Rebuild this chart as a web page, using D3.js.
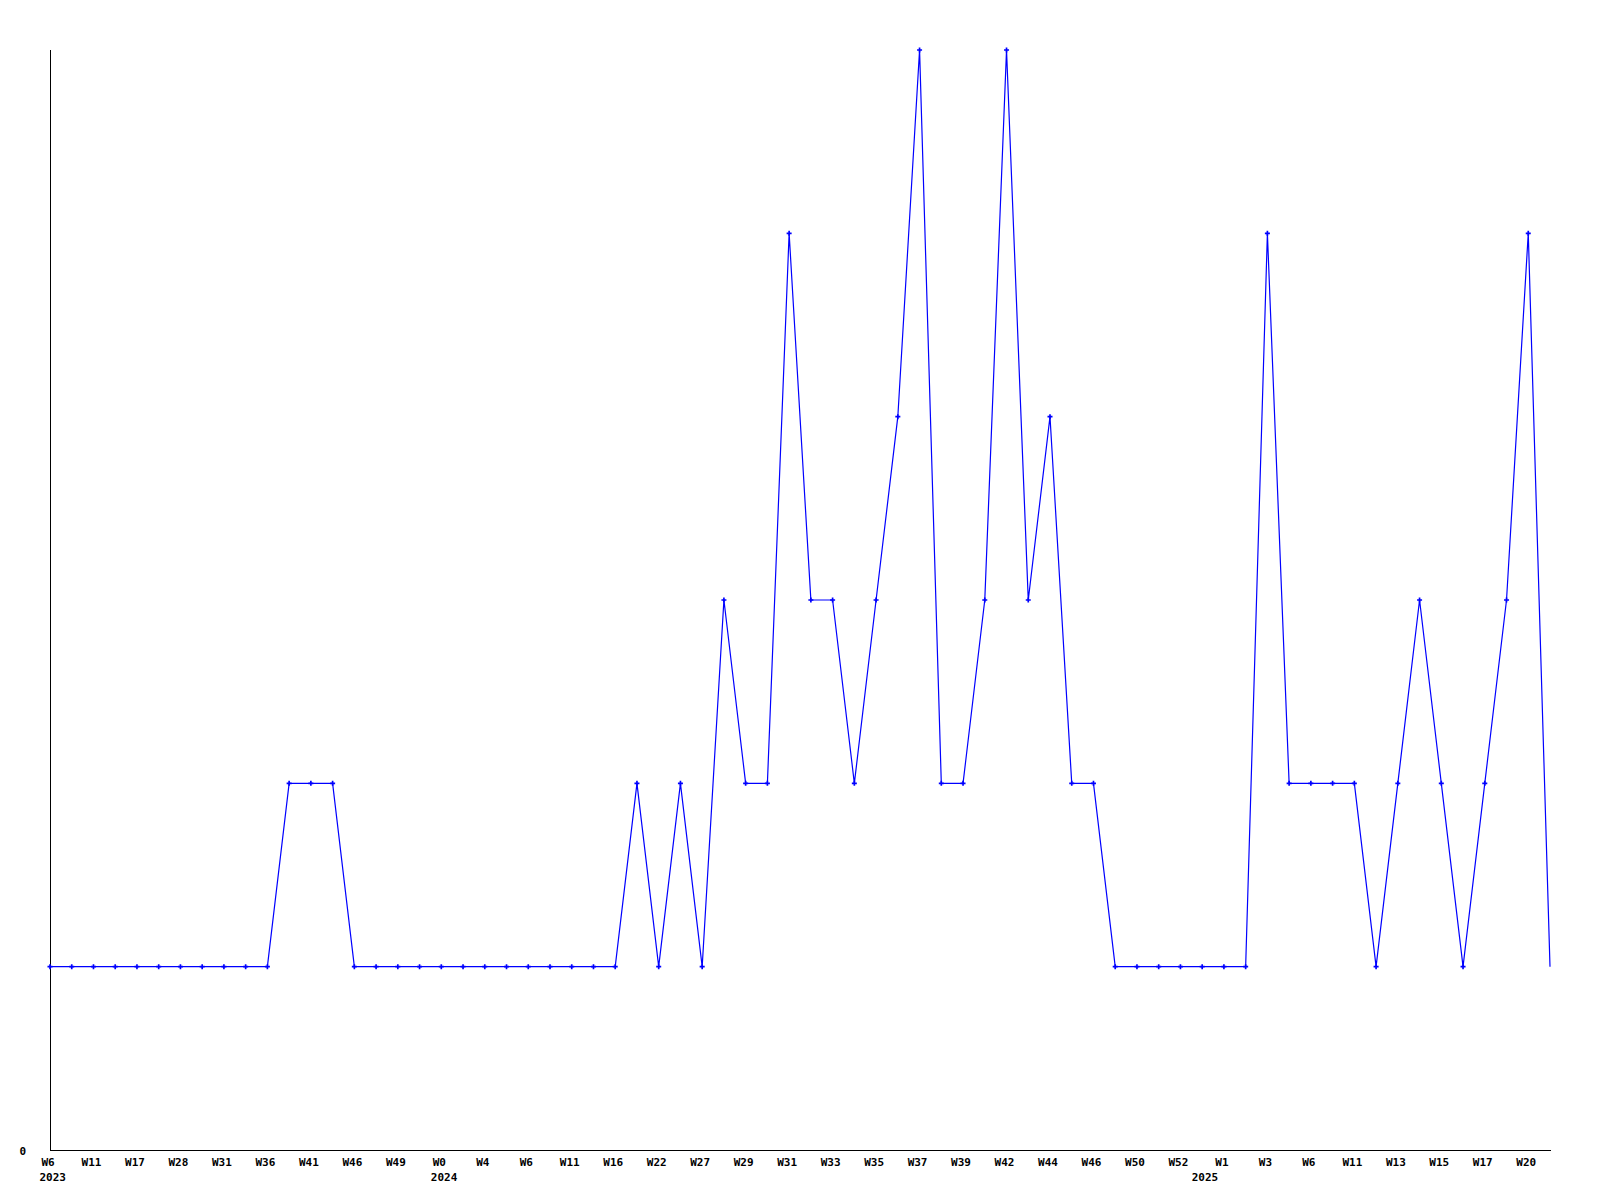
<!DOCTYPE html>
<html>
<head>
<meta charset="utf-8">
<script src="https://cdn.jsdelivr.net/npm/d3@7"></script>
<style>
  html, body { margin: 0; padding: 0; background: #ffffff; }
  svg { display: block; }
  text { font-family: "DejaVu Sans Mono", "Liberation Mono", monospace; font-weight: bold; font-size: 11px; fill: #000; }
</style>
</head>
<body>
<script>
// ---- data ----
const values = [1,1,1,1,1,1,1,1,1,1,1,2,2,2,1,1,1,1,1,1,1,1,1,1,1,1,1,2,1,2,
                1,3,2,2,5,3,3,2,3,4,6,2,2,3,6,3,4,2,2,1,1,1,1,1,1,1,5,2,2,2,
                2,1,2,3,2,1,2,3,5,1];

// week labels shown on every second point (indices 0, 2, 4, ...)
const tickLabels = ["W6","W11","W17","W28","W31","W36","W41","W46","W49","W0","W4","W6",
                    "W11","W16","W22","W27","W29","W31","W33","W35","W37","W39","W42","W44",
                    "W46","W50","W52","W1","W3","W6","W11","W13","W15","W17","W20"];
// year labels and the point index where each year starts
const yearLabels = ["2023", "2024", "2025"];
const yearStarts = [0, 18, 53];
const yTicks = [0];
const yMax = 6;

(function () {
// ---- layout ----
const W = 1600, H = 1200;
const mLeft = 50, mRight = 1550, mTop = 50, mBottom = 1150;

const svg = d3.select("body").append("svg").attr("width", W).attr("height", H);

const x = d3.scalePoint().domain(d3.range(values.length)).range([mLeft, mRight]);
const y = d3.scaleLinear().domain([0, yMax]).range([mBottom, mTop]);

// axes lines
svg.append("line").attr("x1", mLeft + 0.5).attr("x2", mLeft + 0.5).attr("y1", mTop).attr("y2", mBottom)
   .attr("stroke", "#000").attr("stroke-width", 1).attr("shape-rendering", "crispEdges");
svg.append("line").attr("x1", mLeft).attr("x2", mRight + 1).attr("y1", mBottom + 0.5).attr("y2", mBottom + 0.5)
   .attr("stroke", "#000").attr("stroke-width", 1).attr("shape-rendering", "crispEdges");

// y axis labels
const yAxis = d3.axisLeft(y).tickValues(yTicks).tickFormat(d3.format("d")).tickSize(0).tickPadding(24);
const gy = svg.append("g").attr("transform", `translate(${mLeft},0)`).call(yAxis);
gy.select(".domain").remove();
gy.attr("font-size", null).attr("font-family", null);
gy.selectAll("text").attr("dy", "0.4em");

// x axis labels (week)
const tickIdx = d3.range(0, values.length, 2);
const xAxis = d3.axisBottom(x).tickValues(tickIdx).tickFormat((d, i) => tickLabels[i]).tickSize(0);
const gx = svg.append("g").attr("transform", `translate(0,${mBottom})`).call(xAxis);
gx.select(".domain").remove();
gx.attr("font-size", null).attr("font-family", null);
gx.selectAll("text").attr("y", 16).attr("dy", null).attr("dx", -2.5);

// year labels
svg.append("g").selectAll("text.yr").data(yearStarts)
  .join("text").attr("class", "yr")
  .attr("x", d => x(d) - 10.5).attr("y", mBottom + 31).attr("text-anchor", "start")
  .text((d, i) => yearLabels[i]);

// line
const line = d3.line().x((d, i) => x(i)).y(d => y(d));
svg.append("path").datum(values).attr("d", line)
   .attr("fill", "none").attr("stroke", "#0000ff").attr("stroke-width", 1.2);

// markers (last point has none)
svg.append("g").selectAll("path.m").data(values.slice(0, values.length - 1))
  .join("path").attr("class", "m")
  .attr("transform", (d, i) => `translate(${x(i)},${y(d)})`)
  .attr("d", d3.symbol().type(d3.symbolCross).size(14))
  .attr("fill", "#0000ff");
})();
</script>
</body>
</html>
